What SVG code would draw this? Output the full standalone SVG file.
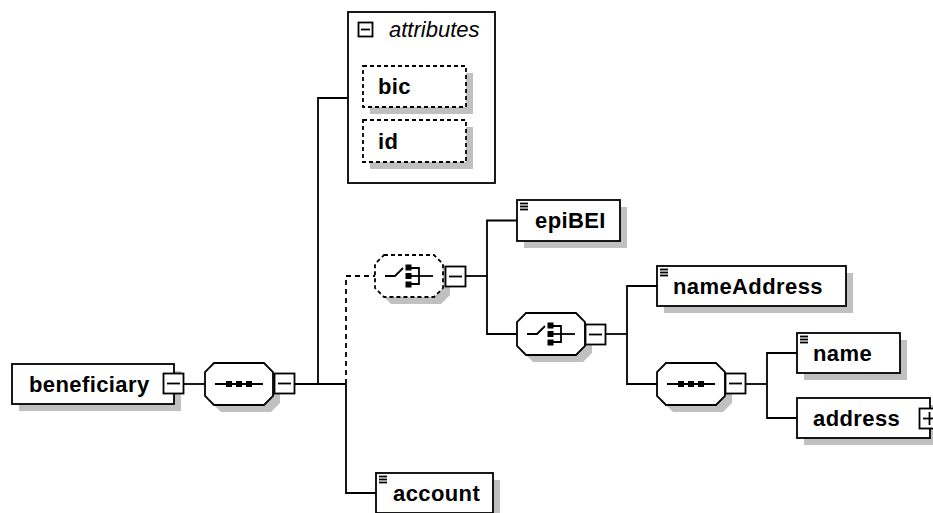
<svg xmlns="http://www.w3.org/2000/svg" xmlns:xlink="http://www.w3.org/1999/xlink" width="933" height="513" viewBox="0 0 933 513">
<style>
.box{fill:#fff;stroke:#000;stroke-width:1.8}
.dbox{fill:#fff;stroke:#000;stroke-width:1.8;stroke-dasharray:4 3}
.sh{fill:#c0c0c0;stroke:none}
.ln{fill:none;stroke:#000;stroke-width:1.8}
.dln{fill:none;stroke:#000;stroke-width:1.8;stroke-dasharray:5 4}
.sq{fill:#000}
.t{font-family:"Liberation Sans",Arial,sans-serif;font-weight:bold;font-size:22px;letter-spacing:0.4px;fill:#000}
.ti{font-family:"Liberation Sans",Arial,sans-serif;font-style:italic;font-size:22px;fill:#000}
</style>
<defs>
<g id="minus"><rect x="0.5" y="0.5" width="20" height="20" class="box"/><line x1="4" y1="10.5" x2="17" y2="10.5" class="ln"/></g>
<g id="plus"><rect x="0.5" y="0.5" width="20" height="20" class="box"/><line x1="4" y1="10.5" x2="17" y2="10.5" class="ln"/><line x1="10.5" y1="4" x2="10.5" y2="17" class="ln"/></g>
<g id="elicon"><line x1="3" y1="3.5" x2="11" y2="3.5" class="ln"/><line x1="3" y1="6.5" x2="11" y2="6.5" class="ln"/><line x1="3" y1="9.5" x2="11" y2="9.5" class="ln"/></g>
<path id="oct" d="M9,0 H59 L68,9 V33 L59,42 H9 L0,33 V9 Z"/>
<g id="seqsym"><line x1="10" y1="21" x2="58" y2="21" class="ln"/><rect x="21" y="18" width="6" height="6" class="sq"/><rect x="31" y="18" width="6" height="6" class="sq"/><rect x="41" y="18" width="6" height="6" class="sq"/></g>
<g id="chsym"><polyline points="10,21 20,21 28,13" class="ln"/><rect x="30.5" y="9.5" width="6" height="6" class="sq"/><rect x="30.5" y="18" width="6" height="6" class="sq"/><rect x="30.5" y="26.5" width="6" height="6" class="sq"/><polyline points="36,13 44,13 44,29 36,29" class="ln"/><line x1="36" y1="21" x2="58" y2="21" class="ln"/></g>
</defs>

<g id="connectors">
<line x1="184" y1="384" x2="205" y2="384" class="ln"/>
<line x1="295" y1="384" x2="346" y2="384" class="ln"/>
<polyline points="348,98 318,98 318,384" class="ln"/>
<polyline points="346,384 346,493 376,493" class="ln"/>
<polyline points="346,384 346,276 375,276" class="dln"/>
<line x1="466" y1="276" x2="487" y2="276" class="ln"/>
<polyline points="517,220.5 487,220.5 487,334 517,334" class="ln"/>
<line x1="606" y1="334" x2="627" y2="334" class="ln"/>
<polyline points="657,286 627,286 627,384 657,384" class="ln"/>
<line x1="746" y1="384" x2="767" y2="384" class="ln"/>
<polyline points="797,353 767,353 767,418 797,418" class="ln"/>
</g>

<g id="beneficiary">
<rect x="19" y="371" width="162" height="40" class="sh"/>
<rect x="12" y="364" width="162" height="40" class="box"/>
<text x="29" y="392" class="t">beneficiary</text>
<use xlink:href="#minus" x="163" y="373"/>
</g>

<g id="sequence1">
<use xlink:href="#oct" x="212" y="370" class="sh"/>
<use xlink:href="#oct" x="205" y="363" class="box"/>
<use xlink:href="#seqsym" x="205" y="363"/>
<use xlink:href="#minus" x="274" y="373"/>
</g>

<g id="attributes">
<rect x="348" y="12" width="147" height="171" class="box"/>
<rect x="358.5" y="22.5" width="14" height="14" class="box"/>
<line x1="361" y1="29.5" x2="370" y2="29.5" class="ln"/>
<text x="389" y="37" class="ti">attributes</text>
</g>

<g id="bic">
<rect x="370" y="73" width="103" height="41" class="sh"/>
<rect x="363" y="66" width="103" height="41" class="dbox"/>
<text x="378" y="94" class="t">bic</text>
</g>

<g id="id">
<rect x="370" y="127" width="103" height="42" class="sh"/>
<rect x="363" y="120" width="103" height="42" class="dbox"/>
<text x="378" y="149" class="t">id</text>
</g>

<g id="choice1">
<use xlink:href="#oct" x="382" y="262" class="sh"/>
<use xlink:href="#oct" x="375" y="255" class="dbox"/>
<use xlink:href="#chsym" x="375" y="255"/>
<use xlink:href="#minus" x="445" y="266"/>
</g>

<g id="epiBEI">
<rect x="524" y="207" width="103" height="41" class="sh"/>
<rect x="517" y="200" width="103" height="41" class="box"/>
<use xlink:href="#elicon" x="517" y="200"/>
<text x="535" y="228" class="t">epiBEI</text>
</g>

<g id="choice2">
<use xlink:href="#oct" x="524" y="320" class="sh"/>
<use xlink:href="#oct" x="517" y="313" class="box"/>
<use xlink:href="#chsym" x="517" y="313"/>
<use xlink:href="#minus" x="585" y="324"/>
</g>

<g id="nameAddress">
<rect x="664" y="273" width="189" height="40" class="sh"/>
<rect x="657" y="266" width="189" height="40" class="box"/>
<use xlink:href="#elicon" x="657" y="266"/>
<text x="673" y="294" class="t">nameAddress</text>
</g>

<g id="sequence2">
<use xlink:href="#oct" x="664" y="370" class="sh"/>
<use xlink:href="#oct" x="657" y="363" class="box"/>
<use xlink:href="#seqsym" x="657" y="363"/>
<use xlink:href="#minus" x="725" y="373"/>
</g>

<g id="name">
<rect x="804" y="340" width="103" height="40" class="sh"/>
<rect x="797" y="333" width="103" height="40" class="box"/>
<use xlink:href="#elicon" x="797" y="333"/>
<text x="813" y="361" class="t">name</text>
</g>

<g id="address">
<rect x="804" y="405" width="133" height="40" class="sh"/>
<rect x="797" y="398" width="133" height="40" class="box"/>
<text x="813" y="426" class="t">address</text>
<use xlink:href="#plus" x="919" y="408"/>
</g>

<g id="account">
<rect x="383" y="480" width="117" height="40" class="sh"/>
<rect x="376" y="473" width="117" height="40" class="box"/>
<use xlink:href="#elicon" x="376" y="473"/>
<text x="393" y="501" class="t">account</text>
</g>
</svg>
